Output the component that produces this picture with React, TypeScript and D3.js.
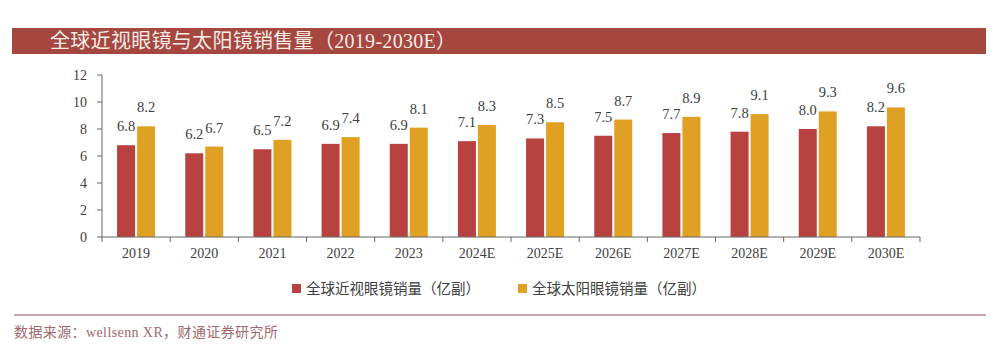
import React from "react";
import * as d3 from "d3";

const categories = ["2019", "2020", "2021", "2022", "2023", "2024E", "2025E", "2026E", "2027E", "2028E", "2029E", "2030E"];
const myopia = [6.8, 6.2, 6.5, 6.9, 6.9, 7.1, 7.3, 7.5, 7.7, 7.8, 8.0, 8.2];
const sunglasses = [8.2, 6.7, 7.2, 7.4, 8.1, 8.3, 8.5, 8.7, 8.9, 9.1, 9.3, 9.6];
const yTicks = [0, 2, 4, 6, 8, 10, 12];
const seriesNames = ["全球近视眼镜销量（亿副）", "全球太阳眼镜销量（亿副）"];
const title = "全球近视眼镜与太阳镜销售量（2019-2030E）";
const source = "数据来源：wellsenn XR，财通证券研究所";

const RED = "#B8423F";
const YEL = "#E0A024";
const serif = "'Liberation Serif', 'Noto Sans CJK SC', serif";

export default function App() {
  const W = 1000, H = 347;
  const x = d3.scaleBand().domain(categories).range([102, 920]).paddingInner(0).paddingOuter(0);
  const y = d3.scaleLinear().domain([0, 12]).range([237, 75]);
  const barW = 18, gap = 2;
  const series = [myopia, sunglasses];
  const colors = [RED, YEL];
  const boundaries = d3.range(categories.length + 1).map(i => 102 + i * x.bandwidth());
  return (
    <svg width={W} height={H} style={{ position: "absolute", left: 0, top: 0, background: "#fff" }}>
      <rect x={12} y={28} width={974} height={26} fill="#A5463F" />
      <text x={50} y={48} fontSize={20} letterSpacing={0.3} fill="#F6ECE6" fontFamily={serif}>{title}</text>

      {yTicks.map(t => (
        <g key={t}>
          <line x1={97} x2={102} y1={y(t)} y2={y(t)} stroke="#666" />
          <text x={87} y={y(t) + 5} fontSize={14} textAnchor="end" fill="#404040" fontFamily={serif}>{t}</text>
        </g>
      ))}
      {categories.map((c, i) => (
        <g key={c}>
          {series.map((s, k) => {
            const cx = (x(c) as number) + x.bandwidth() / 2;
            const bx = k === 0 ? cx - gap / 2 - barW : cx + gap / 2;
            return (
              <g key={k}>
                <rect x={bx} y={y(s[i])} width={barW} height={y(0) - y(s[i])} fill={colors[k]} />
                <text x={bx + barW / 2} y={y(s[i]) - 14} fontSize={14.5} textAnchor="middle" fill="#404040" fontFamily={serif}>{s[i].toFixed(1)}</text>
              </g>
            );
          })}
          <text x={(x(c) as number) + x.bandwidth() / 2} y={258} fontSize={14} textAnchor="middle" fill="#404040" fontFamily={serif}>{c}</text>
        </g>
      ))}
      <line x1={102} x2={102} y1={75} y2={237} stroke="#666" />
      <line x1={102} x2={920} y1={237} y2={237} stroke="#666" />
      {boundaries.map((b, i) => (
        <line key={i} x1={b} x2={b} y1={237} y2={242} stroke="#666" />
      ))}

      {seriesNames.map((n, k) => (
        <g key={n} transform={`translate(${k === 0 ? 292 : 518},0)`}>
          <rect x={0} y={284} width={9} height={9} fill={colors[k]} />
          <text x={14} y={294} fontSize={14.5} fill="#404040" fontFamily={serif}>{n}</text>
        </g>
      ))}

      <line x1={14} x2={986} y1={315} y2={315} stroke="#B08890" strokeWidth={1.5} />
      <text x={14} y={337} fontSize={14} letterSpacing={0.4} fill="#A0686E" fontFamily={serif}>{source}</text>
    </svg>
  );
}
